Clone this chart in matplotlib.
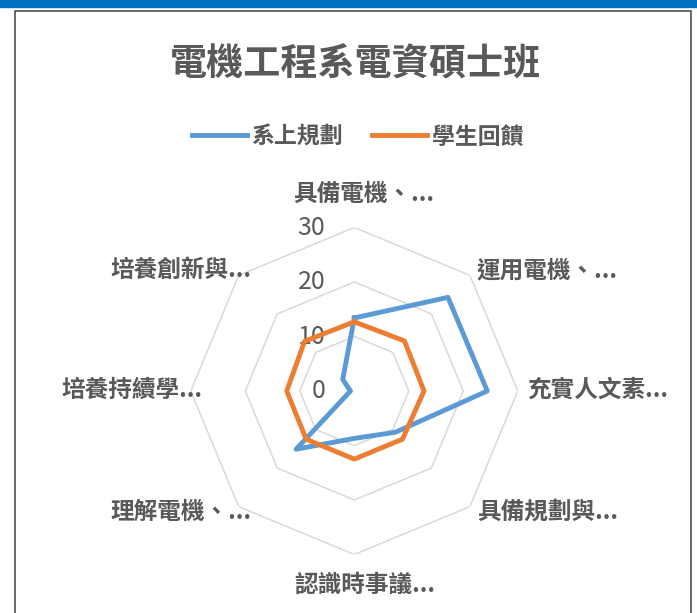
import numpy as np
import matplotlib
matplotlib.use("Agg")
import matplotlib.pyplot as plt
from matplotlib.patches import Rectangle

plt.rcParams['font.family'] = ['Noto Sans CJK TC', 'DejaVu Sans']

# ─── DONNÉES ──────────────────────────────────────────────────────────────────
title = "電機工程系電資碩士班"
categories = ['具備電機、...', '運用電機、...', '充實人文素...', '具備規劃與...',
              '認識時事議...', '理解電機、...', '培養持續學...', '培養創新與...']
series_names = ['系上規劃', '學生回饋']
plan = [13.4, 24.3, 24.4, 10.7, 8.7, 15.1, 0.7, 3.0]
feedback = [12.7, 13.0, 12.8, 12.5, 12.5, 12.5, 12.4, 12.9]
r_ticks = [0, 10, 20, 30]

TXT = '#595959'
GRID = '#D9D9D9'
BLUE = '#5B9BD5'
ORANGE = '#ED7D31'

# ─── FIGURE ───────────────────────────────────────────────────────────────────
W, H = 697, 613
fig = plt.figure(figsize=(W / 100, H / 100), dpi=100)

# bandeau bleu + cadre
fig.patches.append(Rectangle((0, 1 - 7 / H), 1, 7 / H, transform=fig.transFigure,
                             color='#0070C0', zorder=0))
fig.patches.append(Rectangle((15 / W, -0.01), (691 - 15) / W, 1 - 11 / H + 0.01,
                             transform=fig.transFigure, fill=False,
                             edgecolor='#404040', linewidth=1.1, zorder=1))

cx, cy, R = 354.3, 391, 163.5
ax = fig.add_axes([(cx - R) / W, (H - cy - R) / H, 2 * R / W, 2 * R / H],
                  projection='polar')
ax.set_theta_zero_location('N')
ax.set_theta_direction(-1)
ax.set_ylim(0, 30)
ax.grid(False)
ax.set_xticks([])
ax.set_yticks([])
ax.spines['polar'].set_visible(False)
ax.patch.set_alpha(0)

n = len(categories)
theta = np.linspace(0, 2 * np.pi, n, endpoint=False)
theta_c = np.append(theta, theta[0])

# grille octogonale
for v in r_ticks[1:]:
    ax.plot(theta_c, [v] * (n + 1), color=GRID, lw=1.1, zorder=1)

l1, = ax.plot(theta_c, plan + plan[:1], color=BLUE, lw=3.5, zorder=3)
l2, = ax.plot(theta_c, feedback + feedback[:1], color=ORANGE, lw=3.5, zorder=4)

# graduations
for v in r_ticks:
    ax.annotate(str(v), xy=(0, v), xytext=(-29, 0), textcoords='offset pixels',
                ha='right', va='center', fontsize=18, color=TXT)

# étiquettes des catégories
offsets = [(10, 34, 'center'), (7, 5, 'left'), (9, 1, 'left'), (7, -5, 'left'),
           (10, -30, 'center'), (13, -5, 'right'), (12, 1, 'right'), (13, 5, 'right')]
for t, lab, (dx, dy, ha) in zip(theta, categories, offsets):
    ax.annotate(lab, xy=(t, 30), xytext=(dx, dy), textcoords='offset pixels',
                ha=ha, va='center', fontsize=17, fontweight='bold', color=TXT,
                annotation_clip=False)

fig.text(355 / W, 1 - 65 / H, title, ha='center', va='center',
         fontsize=26.7, fontweight='bold', color=TXT)

leg = fig.legend([l1, l2], series_names, loc='center', bbox_to_anchor=(357.5 / W, 1 - 137 / H),
                 ncol=2, frameon=False, fontsize=16.5, handlelength=2.4,
                 handletextpad=0.22, columnspacing=1.26)
for t in leg.get_texts():
    t.set_color(TXT)
    t.set_fontweight('bold')

fig.savefig('out.png', dpi=100)
